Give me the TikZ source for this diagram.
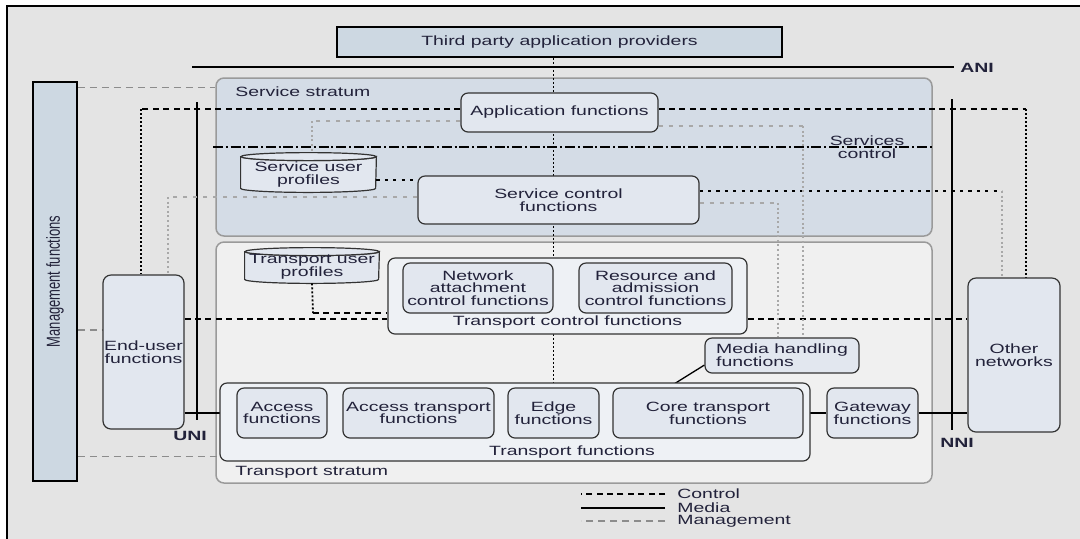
\documentclass[tikz,border=0pt]{standalone}
\usepackage{fontspec}
\setmainfont{Liberation Sans}[FakeStretch=1.45]
\newfontfamily\uprightfont{Liberation Sans}
\usetikzlibrary{positioning}
\pgfdeclarelayer{back}
\pgfdeclarelayer{wires}
\pgfsetlayers{back,wires,main}
\definecolor{paper}{HTML}{E4E4E4}
\definecolor{bluebar}{HTML}{CDD8E2}
\definecolor{servfill}{HTML}{D4DCE6}
\definecolor{transfill}{HTML}{F0F0F0}
\definecolor{boxfill}{HTML}{E2E7EF}
\definecolor{groupfill}{HTML}{EEF1F5}
\definecolor{stratline}{HTML}{9A9A9A}
\definecolor{auxgray}{HTML}{A8A8A8}
\definecolor{mgmtgray}{HTML}{8C8C8C}
\definecolor{ink}{HTML}{22223A}
\tikzstyle{fn}=[draw=black!80, line width=0.6pt, fill=boxfill, rounded corners=3.5pt, align=center, inner sep=0pt]
\tikzstyle{grp}=[fn, fill=groupfill]
\tikzstyle{strat}=[draw=stratline, line width=0.75pt, rounded corners=4pt, inner sep=0pt]
\tikzstyle{bar}=[draw=black, line width=0.75pt, fill=bluebar, inner sep=0pt]
\tikzstyle{cyl}=[inner sep=0pt, align=center]
\tikzstyle{cylline}=[draw=black!80, line width=0.6pt, fill=boxfill]
\tikzstyle{ctrl}=[line width=0.6pt, dash pattern=on 3pt off 2.2pt]
\tikzstyle{ctrlv}=[line width=0.9pt, dash pattern=on 1pt off 1pt]
\tikzstyle{ctrlfine}=[line width=0.6pt, dash pattern=on 1.6pt off 2.6pt]
\tikzstyle{dashdot}=[line width=0.6pt, dash pattern=on 5pt off 1.4pt on 1pt off 1.4pt]
\tikzstyle{aux}=[auxgray, line width=0.6pt, dash pattern=on 2pt off 3pt]
\tikzstyle{auxv}=[auxgray, line width=1pt, dash pattern=on 1pt off 1.3pt]
\tikzstyle{media}=[line width=0.65pt]
\tikzstyle{iline}=[line width=0.8pt]
\tikzstyle{mgmtline}=[mgmtgray, line width=0.55pt, dash pattern=on 3.5pt off 2.5pt]
\tikzstyle{iface}=[font=\fontsize{6.7}{6.4}\selectfont\bfseries, inner sep=0pt]

\begin{document}
\begin{tikzpicture}[x=0.5pt, y=-0.5pt, font=\fontsize{6.7}{6.4}\selectfont, text=ink]
    \useasboundingbox (0,0) rectangle (1080,538);
    \begin{pgfonlayer}{back}
        \fill[white] (0,0) rectangle (1080,538);
        \draw[fill=paper, line width=0.8pt] (7,6) rectangle (1100,560);
        \node [strat, fill=servfill, minimum width=358pt, minimum height=79pt] (ss) at (574,157) {};
        \node [strat, fill=transfill, minimum width=358pt, minimum height=120.5pt] (ts) at (574,362.5) {};
    \end{pgfonlayer}

    % strata labels
    \node [anchor=west, inner sep=0pt] (sslbl) at (235,92) {Service stratum};
    \node [anchor=west, inner sep=0pt] (tslbl) at (235,472) {Transport stratum};

    % top and side bars
    \node [bar, minimum width=222.5pt, minimum height=15pt] (tp) at (559.5,42) {Third party application providers};
    \node [bar, minimum width=22pt, minimum height=199.5pt] (mgmt) at (55,281.5) {};
    \node [rotate=90, inner sep=0pt] (mgmtlbl) at (mgmt) {\uprightfont\fontsize{6.5}{7}\selectfont\scalebox{1}[1.45]{Management functions}};

    % service stratum
    \node [fn, minimum width=98.5pt, minimum height=19.5pt] (app) at (559.5,112.5) {Application functions};
    \node [fn, minimum width=140.5pt, minimum height=24pt] (scf) at (558.5,200) {Service control\\functions};
    \node [cyl, minimum width=67.5pt, minimum height=15.5pt] (sup) at (308.5,172.5) {};
    \node [align=center] (sclbl) at (867,147) {Services\\control};

    % transport stratum
    \node [cyl, minimum width=67pt, minimum height=13.5pt] (tup) at (312,265.5) {};
    \node [grp, minimum width=179.5pt, minimum height=38pt] (tcf) at (567.5,296) {};
    \node [fn, minimum width=75pt, minimum height=25pt] (naf) at (478,288) {Network\\attachment\\control functions};
    \node [fn, minimum width=76.5pt, minimum height=25pt, right of=naf, node distance=88.75pt] (racf) {Resource and\\admission\\control functions};
    \node (tcflbl) at (567.5,322) {Transport control functions};
    \node [fn, align=left, minimum width=77pt, minimum height=17.5pt] (mhf) at (782,355.5) {Media handling\\functions};

    \node [grp, minimum width=295pt, minimum height=39pt] (tf) at (515,422) {};
    \node [fn, minimum width=45pt, minimum height=25pt] (acc) at (282,413) {Access\\functions};
    \node [fn, minimum width=75.5pt, minimum height=25pt, right of=acc, node distance=68.25pt] (acct) {Access transport\\functions};
    \node [fn, minimum width=45.5pt, minimum height=25pt, right of=acct, node distance=67.5pt] (edge) {Edge\\functions};
    \node [fn, minimum width=95pt, minimum height=25pt, right of=edge, node distance=77.25pt] (core) {Core transport\\functions};
    \node [fn, minimum width=45.5pt, minimum height=25pt, right of=core, node distance=82.25pt] (gw) {Gateway\\functions};
    \node (tflbl) at (572,452) {Transport functions};

    % end points
    \node [fn, rounded corners=4pt, minimum width=40.5pt, minimum height=77pt] (eu) at (143.5,352) {End-user\\functions};
    \node [fn, rounded corners=4pt, minimum width=46pt, minimum height=77pt] (on) at (1014,355) {Other\\networks};

    % interfaces
    \node [iface] (ani) at (977,68) {ANI};
    \node [iface] (uni) at (190,436) {UNI};
    \node [iface] (nni) at (957,443) {NNI};
    \coordinate (anil) at (192,67);
    \coordinate (anir) at (954,67);
    \coordinate (unit) at (197,102);
    \coordinate (unib) at (197,420);
    \coordinate (nnit) at (952,99);
    \coordinate (nnib) at (952,430);
    \coordinate (scl) at (213,147);
    \coordinate (scr) at (934,147);

    % legend
    \node [anchor=west, inner sep=0pt] (lgc) at (677,494) {Control};
    \node [anchor=west, inner sep=0pt] (lgm) at (677,508) {Media};
    \node [anchor=west, inner sep=0pt] (lgg) at (677,521) {Management};

    % corners of the connectors
    \coordinate (k1) at (141,109);
    \coordinate (k2) at (1026,109);
    \coordinate (k3) at (1002,191);
    \coordinate (k4) at (313,313);
    \coordinate (g1) at (803,126);
    \coordinate (g2) at (312,121);
    \coordinate (g3) at (778,203);
    \coordinate (g4) at (168,197);
    \coordinate (a1) at ([yshift=1.75pt]app.west);
    \coordinate (a2) at ([yshift=1.75pt]app.east);
    \coordinate (a3) at ([yshift=-6.75pt]app.east);
    \coordinate (a4) at ([yshift=-4.25pt]app.west);
    \coordinate (s1) at ([yshift=-3.75pt]sup.east);
    \coordinate (s2) at ([yshift=4.5pt]scf.east);
    \coordinate (s3) at ([yshift=-1.5pt]scf.east);
    \coordinate (s4) at ([yshift=1.5pt]scf.west);
    \coordinate (e1) at ([yshift=16.5pt]eu.east);
    \coordinate (t1) at ([yshift=-11.5pt]tcf.east);
    \coordinate (m1) at ([yshift=-3pt]mgmt.north east);
    \coordinate (m2) at ([yshift=11pt]eu.west);
    \coordinate (m3) at ([yshift=2.5pt]tf.south west);

    \begin{pgfonlayer}{wires}
        % profile cylinders
        \filldraw[cylline] (sup.north west) -- (sup.south west) arc[start angle=180, end angle=360, x radius=33.75pt, y radius=2pt] -- (sup.north east) arc[start angle=0, end angle=-180, x radius=33.75pt, y radius=2pt] -- cycle;
        \filldraw[cylline] (sup.north) ellipse [x radius=33.75pt, y radius=2pt];
        \filldraw[cylline] (tup.north west) -- (tup.south west) arc[start angle=180, end angle=360, x radius=33.5pt, y radius=2pt] -- (tup.north east) arc[start angle=0, end angle=-180, x radius=33.5pt, y radius=2pt] -- cycle;
        \filldraw[cylline] (tup.north) ellipse [x radius=33.5pt, y radius=2pt];

        % interface lines
        \draw[iline] (anil) -- (anir);
        \draw[iline] (unit) -- (unib);
        \draw[iline] (nnit) -- (nnib);
        \draw[dashdot] (scl) -- (scr);

        % control
        \draw[ctrl] (a1) -- (k1);
        \draw[ctrlv] (k1) -- (k1 |- eu.north);
        \draw[ctrl] (a2) -- (k2);
        \draw[ctrlv] (k2) -- (k2 |- on.north);
        \draw[ctrlv] (tp.south -| edge.north) -- (edge.north);
        \draw[ctrlfine] (s1) -- (s1 -| scf.west);
        \draw[ctrlfine] (s2) -- (k3);
        \draw[auxv] (k3) -- (k3 |- on.north);
        \draw[ctrlv] ([yshift=-2pt]tup.south) -- (k4);
        \draw[ctrl] (k4) -- (k4 -| tcf.west);
        \draw[ctrl] (naf.east) -- (racf.west);
        \draw[ctrl] (e1) -- (e1 -| tcf.west);
        \draw[ctrl] (t1) -- (t1 -| on.west);

        % other gray links
        \draw[aux] (a3) -- (g1);
        \draw[auxv] (g1) -- (g1 |- mhf.north);
        \draw[aux] (a4) -- (g2);
        \draw[auxv] (g2) -- ([yshift=2pt]g2 |- sup.north);
        \draw[aux] (s3) -- (g3);
        \draw[auxv] (g3) -- (g3 |- mhf.north);
        \draw[aux] (s4) -- (g4);
        \draw[auxv] (g4) -- (g4 |- eu.north);

        % media
        \draw[media] (acc.west -| eu.east) -- (acc.west);
        \draw[media] (acc) -- (acct);
        \draw[media] (acct) -- (edge);
        \draw[media] (edge) -- (core);
        \draw[media] (core) -- (gw);
        \draw[media] (gw.east) -- (gw.east -| on.west);
        \draw[media] (mhf.187) -- (core.147);

        % management
        \draw[mgmtline] (m1) -- (m1 -| ss.west);
        \draw[mgmtline] (m2 -| mgmt.east) -- (m2);
        \draw[mgmtline] (m3 -| mgmt.east) -- (m3);

        % legend samples
        \draw[ctrl] ([xshift=-6pt]lgc.west) -- ++(-84,0);
        \draw[media] ([xshift=-6pt]lgm.west) -- ++(-84,0);
        \draw[mgmtline] ([xshift=-6pt]lgg.west) -- ++(-84,0);
    \end{pgfonlayer}

    % profile texts
    \node [cyl] (suptxt) at (308.5,174.5) {Service user\\profiles};
    \node [cyl] (tuptxt) at (312,267) {Transport user\\profiles};
\end{tikzpicture}
\end{document}
